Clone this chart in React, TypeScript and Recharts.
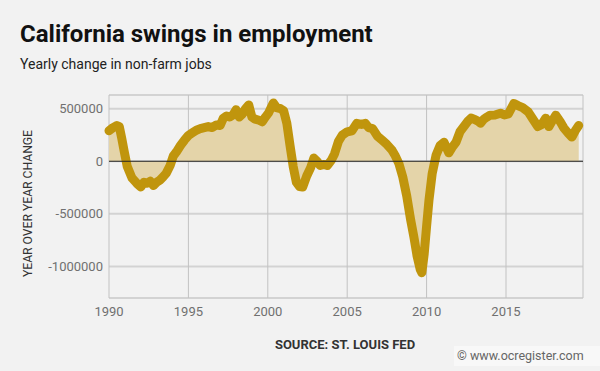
import { Area, AreaChart, CartesianGrid, ReferenceLine, XAxis, YAxis } from "recharts";

// decimal year, yearly change in non-farm jobs
const years = [
  1990.0, 1990.25, 1990.5, 1990.65, 1990.8, 1990.95, 1991.15, 1991.45, 1991.75, 1992.0,
  1992.2, 1992.4, 1992.6, 1992.8, 1993.0, 1993.2, 1993.4, 1993.6, 1993.85, 1994.05,
  1994.25, 1994.5, 1994.75, 1995.0, 1995.25, 1995.5, 1995.75, 1996.0, 1996.25, 1996.5,
  1996.75, 1997.0, 1997.2, 1997.4, 1997.6, 1997.8, 1998.0, 1998.2, 1998.4, 1998.6,
  1998.8, 1999.0, 1999.2, 1999.45, 1999.65, 1999.85, 2000.05, 2000.35, 2000.55, 2000.8,
  2001.0, 2001.2, 2001.4, 2001.6, 2001.8, 2002.0, 2002.2, 2002.45, 2002.7, 2002.9,
  2003.1, 2003.3, 2003.55, 2003.75, 2004.0, 2004.2, 2004.45, 2004.7, 2005.0, 2005.3,
  2005.6, 2005.9, 2006.15, 2006.35, 2006.6, 2006.9, 2007.2, 2007.5, 2007.8, 2008.0,
  2008.25, 2008.5, 2008.75, 2009.0, 2009.2, 2009.4, 2009.6, 2009.7, 2009.85, 2010.0,
  2010.15, 2010.35, 2010.6, 2010.85, 2011.1, 2011.4, 2011.6, 2011.85, 2012.1, 2012.35,
  2012.6, 2012.8, 2013.0, 2013.25, 2013.4, 2013.6, 2013.8, 2014.0, 2014.3, 2014.65,
  2014.9, 2015.15, 2015.5, 2015.75, 2016.05, 2016.4, 2016.7, 2017.0, 2017.25, 2017.5,
  2017.7, 2017.9, 2018.13, 2018.4, 2018.65, 2018.9, 2019.15, 2019.4, 2019.58,
];

const changes = [
  290000, 320000, 340000, 330000, 220000, 100000, -50000, -160000, -210000, -245000,
  -200000, -210000, -190000, -230000, -200000, -180000, -150000, -115000, -40000, 50000,
  90000, 150000, 200000, 245000, 270000, 295000, 310000, 320000, 330000, 320000,
  345000, 340000, 410000, 430000, 420000, 440000, 490000, 420000, 450000, 500000,
  535000, 420000, 400000, 390000, 375000, 420000, 460000, 555000, 510000, 500000,
  480000, 360000, 150000, -50000, -200000, -240000, -245000, -140000, -60000, 30000,
  0, -40000, -30000, -40000, 10000, 70000, 190000, 250000, 280000, 290000,
  360000, 350000, 360000, 320000, 310000, 240000, 200000, 160000, 110000, 60000,
  -20000, -150000, -330000, -560000, -720000, -900000, -1030000, -1060000, -880000, -620000,
  -370000, -120000, 60000, 150000, 180000, 80000, 130000, 180000, 280000, 330000,
  380000, 410000, 400000, 380000, 362000, 400000, 420000, 438000, 440000, 457000,
  440000, 450000, 550000, 530000, 510000, 470000, 400000, 330000, 350000, 410000,
  330000, 380000, 438000, 380000, 315000, 270000, 230000, 300000, 340000,
];

const xTicks = [1990, 1995, 2000, 2005, 2010, 2015];
const yTicks = [-1000000, -500000, 0, 500000];

const data = years.map((year, i) => ({ year, change: changes[i] }));

const FONT = "Roboto, 'Noto Sans', sans-serif";

export default function App() {
  return (
    <div style={{ position: "absolute", left: 0, top: 0, width: 600, height: 371, background: "#f2f2f2", fontFamily: FONT }}>
      <AreaChart width={600} height={371} data={data} margin={{ top: 95, right: 17, bottom: 43, left: 0 }}>
        <CartesianGrid vertical={false} stroke="#d3d3d3" strokeWidth={2} />
        <CartesianGrid horizontal={false} stroke="#c2c2c2" strokeWidth={1} />
        <XAxis
          dataKey="year"
          type="number"
          domain={[1990, 2019.85]}
          ticks={xTicks}
          height={30}
          axisLine={false}
          tickLine={false}
          tickSize={6}
          tickMargin={3}
          tick={{ fill: "#707070", fontSize: 13, fontFamily: FONT }}
        />
        <YAxis
          type="number"
          domain={[-1300000, 630000]}
          ticks={yTicks}
          width={109}
          axisLine={false}
          tickLine={false}
          tickSize={6}
          tickMargin={0}
          tick={{ fill: "#707070", fontSize: 13, fontFamily: FONT }}
        />
        <Area
          type="linear"
          dataKey="change"
          baseValue={0}
          stroke="#c0950d"
          strokeWidth={9}
          strokeLinejoin="round"
          strokeLinecap="round"
          fill="#e4d4a9"
          fillOpacity={1}
          isAnimationActive={false}
        />
        <ReferenceLine y={0} stroke="#222" strokeWidth={1} />
      </AreaChart>
      <svg width={600} height={371} style={{ position: "absolute", left: 0, top: 0, pointerEvents: "none" }}>
        <text x={20} y={42} fontSize={24} fontWeight={700} fill="#111" fontFamily={FONT}>
          California swings in employment
        </text>
        <text x={20} y={69} fontSize={14} fill="#222" fontFamily={FONT}>
          Yearly change in non-farm jobs
        </text>
        <text
          x={0}
          y={0}
          transform="translate(32 203.5) rotate(-90)"
          textAnchor="middle"
          fontSize={13}
          fill="#333"
          fontFamily={FONT}
          textLength={147}
          lengthAdjust="spacingAndGlyphs"
        >
          YEAR OVER YEAR CHANGE
        </text>
        <text x={345} y={349} textAnchor="middle" fontSize={13} fontWeight={700} fill="#333" fontFamily={FONT}>
          SOURCE: ST. LOUIS FED
        </text>
        <rect x={454} y={346} width={146} height={20} fill="#f8f8f8" />
        <text x={457} y={360} fontSize={12.5} fill="#666" fontFamily={FONT}>
          © www.ocregister.com
        </text>
      </svg>
    </div>
  );
}
